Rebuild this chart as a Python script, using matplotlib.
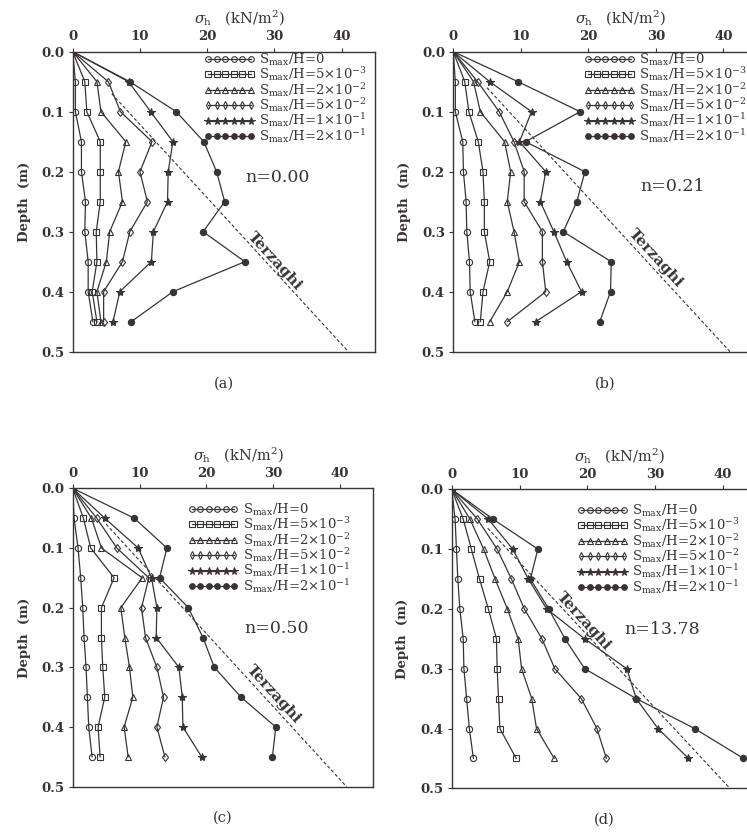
import matplotlib.pyplot as plt
import numpy as np

plt.rcParams['font.family'] = 'DejaVu Serif'
plt.rcParams['mathtext.fontset'] = 'dejavuserif'

depth = [0.0, 0.05, 0.10, 0.15, 0.20, 0.25, 0.30, 0.35, 0.40, 0.45]

# sigma_h (kN/m2) per S_max/H, one list of six series per panel
sig_a = [
    [0, 0.4, 0.4, 1.3, 1.3, 1.9, 1.8, 2.3, 2.3, 3.0],
    [0, 1.8, 2.1, 4.1, 4.1, 4.1, 3.5, 3.6, 2.9, 3.6],
    [0, 3.6, 4.2, 7.9, 6.8, 7.4, 5.5, 5.0, 3.6, 4.2],
    [0, 5.3, 7.1, 11.8, 10.0, 11.1, 8.5, 7.4, 4.6, 4.6],
    [0, 8.3, 11.6, 14.9, 14.2, 14.1, 12.0, 11.7, 7.0, 6.0],
    [0, 8.5, 15.4, 19.5, 21.4, 22.6, 19.4, 25.6, 14.9, 8.7],
]
sig_b = [
    [0, 0.3, 0.3, 1.4, 1.5, 1.9, 2.0, 2.4, 2.5, 3.2],
    [0, 1.7, 2.3, 3.7, 4.4, 4.6, 4.6, 5.4, 4.4, 4.0],
    [0, 3.0, 4.0, 7.6, 8.5, 8.0, 9.0, 9.8, 8.0, 5.4],
    [0, 3.6, 6.8, 9.0, 10.5, 10.5, 13.2, 13.2, 13.7, 8.0],
    [0, 5.4, 11.6, 9.8, 13.7, 12.9, 14.9, 16.8, 19.0, 12.2],
    [0, 9.6, 18.8, 10.7, 19.5, 18.3, 16.3, 23.4, 23.3, 21.7],
]
sig_c = [
    [0, 0.2, 0.8, 1.2, 1.5, 1.7, 2.0, 2.2, 2.4, 2.9],
    [0, 1.6, 2.7, 6.2, 4.3, 4.3, 4.5, 4.8, 3.8, 4.1],
    [0, 2.8, 4.3, 10.4, 7.2, 7.8, 8.5, 9.0, 7.7, 8.3],
    [0, 3.6, 6.6, 11.4, 10.3, 10.9, 12.6, 13.6, 12.6, 13.8],
    [0, 4.8, 9.8, 11.8, 12.6, 12.5, 15.9, 16.4, 16.5, 19.3],
    [0, 9.2, 14.1, 13.0, 17.3, 19.5, 21.2, 25.2, 30.4, 29.9],
]
sig_d = [
    [0, 0.5, 0.7, 0.9, 1.2, 1.7, 1.8, 2.2, 2.6, 3.2],
    [0, 1.7, 2.9, 4.1, 5.4, 6.6, 6.7, 6.9, 7.1, 9.5],
    [0, 2.7, 4.7, 6.4, 8.2, 9.8, 10.3, 11.8, 12.5, 15.1],
    [0, 3.8, 6.7, 8.8, 10.7, 13.3, 15.2, 19.1, 21.4, 22.8],
    [0, 5.4, 9.0, 11.3, 14.0, 19.6, 25.8, 27.2, 30.4, 34.9],
    [0, 6.1, 12.7, 11.6, 14.3, 16.7, 19.6, 27.2, 35.8, 43.0],
]

labels = [r'S$_{\rm max}$/H=0',
          r'S$_{\rm max}$/H=5$\times$10$^{-3}$',
          r'S$_{\rm max}$/H=2$\times$10$^{-2}$',
          r'S$_{\rm max}$/H=5$\times$10$^{-2}$',
          r'S$_{\rm max}$/H=1$\times$10$^{-1}$',
          r'S$_{\rm max}$/H=2$\times$10$^{-1}$']
n_text = ['n=0.00', 'n=0.21', 'n=0.50', 'n=13.78']
letters = ['(a)', '(b)', '(c)', '(d)']

# Terzaghi line: visible part, (sigma, depth) start and end
terz_x = [[5.8, 41.0], [5.0, 41.0], [5.0, 41.0], [5.3, 41.0]]
terz_y = [[0.07, 0.5], [0.06, 0.5], [0.06, 0.5], [0.065, 0.5]]

ink = '#3a3333'
markers = ['o', 's', '^', 'd', '*', 'o']
filled = [False, False, False, False, True, True]

W, H = 747, 832
fig = plt.figure(figsize=(W / 100, H / 100), dpi=100)

# axes boxes in pixels: left, top, right, bottom
boxes = [(72.7, 51.7, 375.3, 351.7), (453.3, 51.7, 757.0, 351.7),
         (72.7, 488.3, 373.3, 786.7), (451.7, 489.3, 757.0, 788.3)]
leg_xy = [(0.435, 1.0), (0.432, 1.0), (0.383, 0.955), (0.412, 0.955)]
n_xy = [(30.5, 0.21), (32.5, 0.225), (30.5, 0.235), (31.0, 0.235)]
terz_lbl = [(30.0, 0.35), (30.0, 0.345), (30.1, 0.345), (19.4, 0.22)]

all_sig = [sig_a, sig_b, sig_c, sig_d]

for i in range(4):
    l, t, r, b = boxes[i]
    ax = fig.add_axes([l / W, 1 - b / H, (r - l) / W, (b - t) / H])
    for j, s in enumerate(all_sig[i]):
        ax.plot(s, depth, color=ink, lw=0.9, marker=markers[j],
                ms=6 if markers[j] == '*' else 4.5,
                mfc=ink if filled[j] else 'none', mec=ink, mew=0.8,
                label=labels[j])
    ax.plot(terz_x[i], terz_y[i], color=ink, lw=0.8, ls=(0, (3, 2)))

    ax.set_xlim(0, 45)
    ax.set_ylim(0.5, 0)
    ax.xaxis.tick_top()
    ax.set_xticks([0, 10, 20, 30, 40])
    ax.set_yticks([0, 0.1, 0.2, 0.3, 0.4, 0.5])
    ax.set_yticklabels(['0.0', '0.1', '0.2', '0.3', '0.4', '0.5'])
    ax.tick_params(colors=ink, labelsize=9.5, length=3, width=0.8, pad=3)
    for lab in ax.get_xticklabels() + ax.get_yticklabels():
        lab.set_fontweight('bold')
    for sp in ax.spines.values():
        sp.set_color(ink)
        sp.set_linewidth(1.0)

    ax.text(0.55, 1.11, r'$\sigma_{\rm h}$   (kN/m$^{\rm 2}$)', transform=ax.transAxes,
            ha='center', va='center', fontsize=10.5, color=ink)
    ax.text(-0.16, 0.5, 'Depth  (m)', transform=ax.transAxes, rotation=90,
            ha='center', va='center', fontsize=9.5, fontweight='bold', color=ink)
    ax.text(0.5, -0.105, letters[i], transform=ax.transAxes,
            ha='center', va='center', fontsize=10.5, color=ink)
    ax.text(n_xy[i][0], n_xy[i][1], n_text[i], ha='center', va='center',
            fontsize=12.5, color=ink)
    ax.text(terz_lbl[i][0], terz_lbl[i][1], 'Terzaghi', rotation=-47.5,
            ha='center', va='center', fontsize=11, fontweight='bold', color=ink,
            rotation_mode='anchor')

    ax.legend(loc='upper left', bbox_to_anchor=leg_xy[i], frameon=False,
              numpoints=6, handlelength=3.8, handletextpad=0.35,
              labelspacing=-0.2, borderpad=0, borderaxespad=0,
              fontsize=9.5, labelcolor=ink, markerscale=0.9)

fig.savefig('out.png', dpi=100)
